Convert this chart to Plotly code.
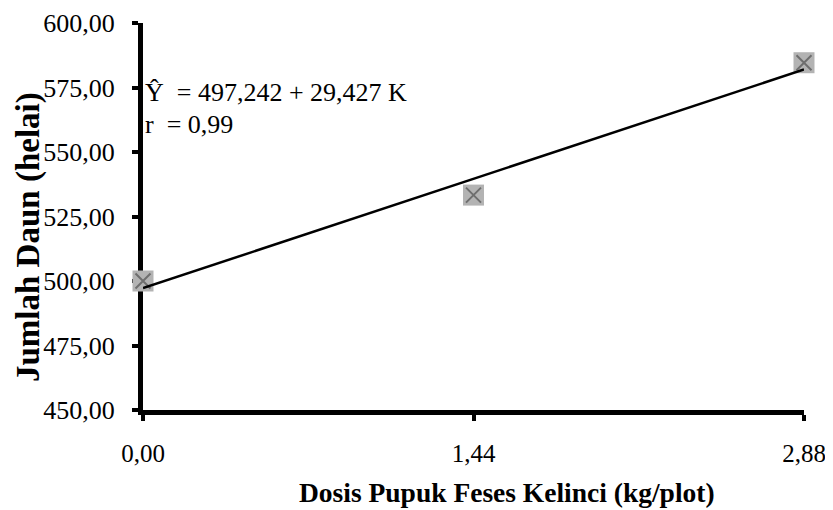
import plotly.graph_objects as go

# Data
dose = [0.00, 1.44, 2.88]
leaves = [500.0, 533.3, 584.6]
intercept = 497.242
slope = 29.427
x_ticks = [0.00, 1.44, 2.88]
x_ticklabels = ["0,00", "1,44", "2,88"]
y_ticks = [450, 475, 500, 525, 550, 575, 600]

line_x = [dose[0], dose[-1]]
line_y = [intercept + slope * v for v in line_x]

FONT = "Liberation Serif, Times New Roman, serif"

fig = go.Figure()
fig.add_trace(go.Scatter(
    x=dose, y=leaves, mode="markers", cliponaxis=False,
    marker=dict(symbol="square", size=21, color="#b3b3b3", line=dict(width=0)),
    showlegend=False, hoverinfo="skip"))
fig.add_trace(go.Scatter(
    x=dose, y=leaves, mode="markers", cliponaxis=False,
    marker=dict(symbol="x-thin", size=15, color="#6e6e6e", line=dict(width=2, color="#6e6e6e")),
    showlegend=False))
fig.add_trace(go.Scatter(
    x=line_x, y=line_y, mode="lines", cliponaxis=False,
    line=dict(color="black", width=2.5), showlegend=False))

fig.update_layout(
    width=833, height=510,
    margin=dict(l=135, r=37, t=15, b=108),
    plot_bgcolor="white", paper_bgcolor="white",
    separators=",.",
    font=dict(family=FONT, size=26, color="black"),
    xaxis=dict(range=[0, 2.88], tickvals=x_ticks, ticktext=x_ticklabels,
               showgrid=False, zeroline=False, showline=True, linecolor="black",
               linewidth=5, ticks="outside", ticklen=6, tickwidth=4, tickcolor="black",
               ticklabelstandoff=11, ticklabeloverflow="allow", automargin=False,
               layer="below traces", tickfont=dict(size=25, family=FONT)),
    yaxis=dict(range=[450, 600], tickvals=y_ticks, tickformat=".2f",
               showgrid=False, zeroline=False, showline=True, linecolor="black",
               linewidth=5, ticks="outside", ticklen=6, tickwidth=4, tickcolor="black",
               ticklabelstandoff=12, ticklabeloverflow="allow", automargin=False,
               layer="below traces", tickfont=dict(size=26, family=FONT)),
    annotations=[
        dict(text="Ŷ  = 497,242 + 29,427 K", x=0, y=573, xref="x", yref="y",
             xanchor="left", yanchor="middle", showarrow=False,
             font=dict(size=26, family=FONT)),
        dict(text="r  = 0,99", x=0, y=560.6, xref="x", yref="y",
             xanchor="left", yanchor="middle", showarrow=False,
             font=dict(size=26, family=FONT)),
        dict(text="<b>Dosis Pupuk Feses Kelinci (kg/plot)</b>", x=0.55, y=-0.212,
             xref="paper", yref="paper", xanchor="center", yanchor="middle",
             showarrow=False, font=dict(size=27.5, family=FONT)),
        dict(text="<b>Jumlah Daun (helai)</b>", x=-0.174, y=0.447, textangle=-90,
             xref="paper", yref="paper", xanchor="center", yanchor="middle",
             showarrow=False, font=dict(size=33, family=FONT)),
    ],
)

fig.write_html("out.html")
